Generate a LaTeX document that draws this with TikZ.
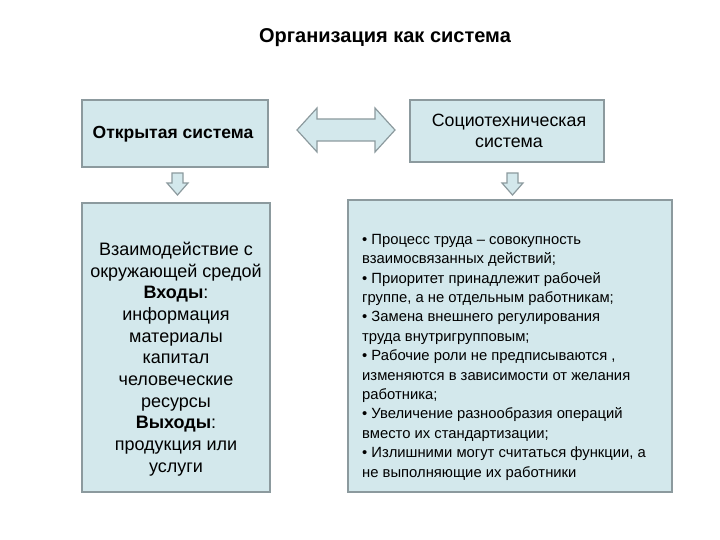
\documentclass[tikz,border=0pt]{standalone}
\usepackage{fontspec}
\setmainfont{Liberation Sans}
\definecolor{boxfill}{HTML}{D3E8EC}
\definecolor{boxline}{HTML}{8C9A9E}
\begin{document}
\begin{tikzpicture}[x=1pt,y=-1pt,
  box/.style={draw=boxline,fill=boxfill,line width=1.2pt},
  arr/.style={draw=boxline,fill=boxfill,line width=1.2pt,line join=miter}]
\useasboundingbox (0,0) rectangle (720,540);
\node[font=\bfseries\fontsize{20}{24}\selectfont] (title) at (385,38) {Организация как система};
\draw[box] (82,100) rectangle (268,167);
\node[font=\bfseries\fontsize{17.5}{21}\selectfont] (open) at (173,134) {Открытая система};
\draw[box] (410,100) rectangle (604,162);
\node[align=center,font=\fontsize{17.8}{21.5}\selectfont] (socio) at (509,131) {Социотехническая\\система};
% double arrow
\draw[arr] (297,130) -- (317,108) -- (317,119) -- (375,119) -- (375,108) -- (395,130)
  -- (375,152) -- (375,141) -- (317,141) -- (317,152) -- cycle;
% down arrows
\draw[arr] (172,173) -- (183,173) -- (183,183) -- (188,183) -- (177.5,195) -- (167,183) -- (172,183) -- cycle;
\draw[arr] (507,173) -- (518,173) -- (518,183) -- (523,183) -- (512.5,195) -- (502,183) -- (507,183) -- cycle;
\draw[box] (82,203) rectangle (270,492);
\node[align=center,font=\fontsize{18}{21.7}\selectfont] (left) at (176,359) {Взаимодействие с\\окружающей средой\\\textbf{Входы}:\\информация\\материалы\\капитал\\человеческие\\ресурсы\\\textbf{Выходы}:\\продукция или\\услуги};
\draw[box] (348,200) rectangle (672,492);
\node[align=left,anchor=north west,inner sep=0pt,font=\fontsize{14.8}{19.4}\selectfont] (right) at (362,234) {• Процесс труда – совокупность\\взаимосвязанных действий;\\• Приоритет принадлежит рабочей\\группе, а не отдельным работникам;\\• Замена внешнего регулирования\\труда внутригрупповым;\\• Рабочие роли не предписываются ,\\изменяются в зависимости от желания\\работника;\\• Увеличение разнообразия операций\\вместо их стандартизации;\\• Излишними могут считаться функции, а\\не выполняющие их работники};
\end{tikzpicture}
\end{document}
